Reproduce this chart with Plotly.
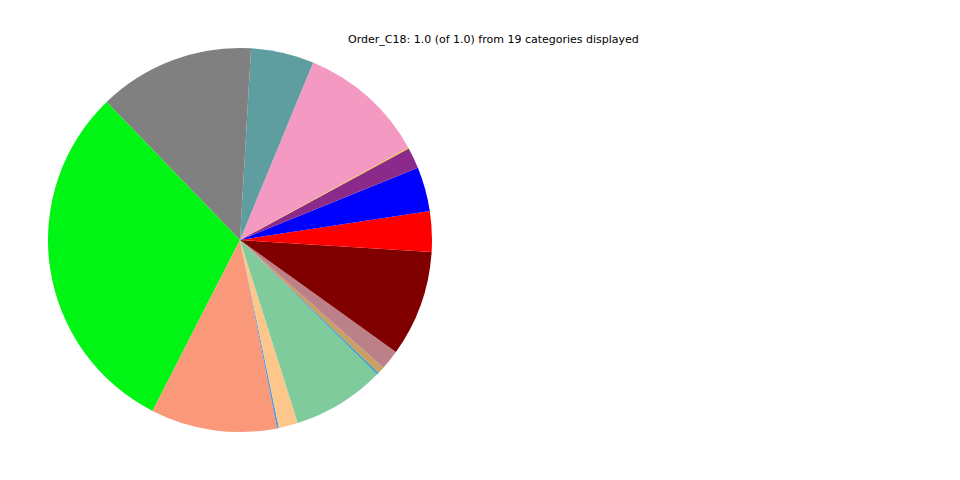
import plotly.graph_objects as go

labels = ["Cat01", "Cat02", "Cat03", "Cat04", "Cat05", "Cat06", "Cat07", "Cat08",
          "Cat09", "Cat10", "Cat11", "Cat12", "Cat13", "Cat14", "Cat15", "Cat16", "Cat17"]
values = [8.7, 13.4, 6.4, 0.3, 38.8, 19.1, 47.3, 108.9,
          38.2, 0.6, 5.8, 28.1, 0.6, 2.1, 6.0, 32.1, 3.6]
colors = ["#FF0000", "#0000FF", "#8B2A8B", "#E6C21A", "#F49AC2", "#5F9EA0", "#808080", "#00F514",
          "#F9997A", "#6495D5", "#FDC68A", "#80CB9B", "#2A9BD8", "#C8A064", "#BC8088", "#800000", "#FF0000"]
title_text = "Order_C18: 1.0 (of 1.0) from 19 categories displayed"

fig = go.Figure(go.Pie(
    labels=labels,
    values=values,
    marker=dict(colors=colors, line=dict(width=0)),
    sort=False,
    direction="counterclockwise",
    rotation=81.3,
    textinfo="none",
    hoverinfo="label+percent",
    showlegend=False,
    domain=dict(x=[40 / 960, 424 / 960], y=[56 / 480, 440 / 480]),
))

fig.add_annotation(
    text=title_text, x=485 / 960, y=1 - 32 / 480, xref="paper", yref="paper",
    showarrow=False, xanchor="center", yanchor="middle",
    font=dict(family="DejaVu Sans", size=11, color="#000000"),
)

fig.update_layout(
    width=960, height=480,
    margin=dict(l=0, r=0, t=0, b=0),
    paper_bgcolor="white", plot_bgcolor="white",
)

fig.write_html("out.html")
